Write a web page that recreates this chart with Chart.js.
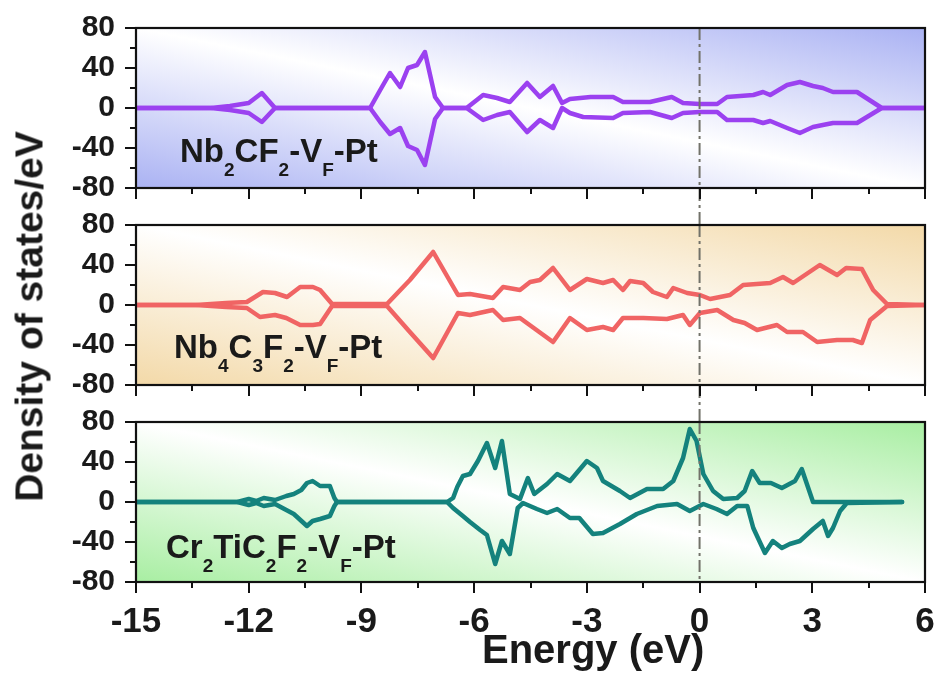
<!DOCTYPE html>
<html><head><meta charset="utf-8">
<script src="https://cdn.jsdelivr.net/npm/chart.js@4.4.1/dist/chart.umd.min.js"></script>
<style>
html,body{margin:0;padding:0;background:#fff;}
#wrap{position:relative;width:941px;height:679px;overflow:hidden;font-family:"Liberation Sans",Arial,sans-serif;}
canvas{position:absolute;left:0;top:0;}
.lbl{position:absolute;font-weight:bold;font-size:33px;line-height:33px;color:#1a1a1a;white-space:nowrap;}
.lbl span{font-size:19px;line-height:19px;position:relative;top:14px;}
.ytitle{position:absolute;left:-221px;top:297px;width:500px;height:39px;line-height:39px;font-size:39px;font-weight:bold;color:#1a1a1a;text-align:center;transform:rotate(-90deg);white-space:nowrap;}
.xtitle{position:absolute;left:482px;top:629px;height:40px;line-height:40px;font-size:40px;font-weight:bold;color:#1a1a1a;white-space:nowrap;}
</style></head>
<body><div id="wrap">
<canvas id="c1" width="941" height="679"></canvas>
<canvas id="c2" width="941" height="679"></canvas>
<canvas id="c3" width="941" height="679"></canvas>
<div class="lbl" style="left:180px;top:134px">Nb<span>2</span>CF<span>2</span>-V<span>F</span>-Pt</div>
<div class="lbl" style="left:174px;top:330px">Nb<span>4</span>C<span>3</span>F<span>2</span>-V<span>F</span>-Pt</div>
<div class="lbl" style="left:166px;top:530px">Cr<span>2</span>TiC<span>2</span>F<span>2</span>-V<span>F</span>-Pt</div>
<div class="ytitle">Density of states/eV</div>
<div class="xtitle">Energy (eV)</div>
</div>
<script>
// ---------- data ----------
const xTicks = [-15, -12, -9, -6, -3, 0, 3, 6];
const yTicks = [-80, -40, 0, 40, 80];

// Panel 1: Nb2CF2-VF-Pt
const p1UpE = [-15, -13.0, -12.5, -12.0, -11.65, -11.3, -8.77, -8.5, -8.24, -7.97, -7.76, -7.52, -7.31, -7.04, -6.83, -6.2, -5.76, -5.39, -5.05, -4.59, -4.25, -3.90, -3.66, -3.45, -2.9, -2.30, -2.04, -1.32, -0.74, -0.44, 0.0, 0.47, 0.73, 1.43, 1.69, 1.88, 2.33, 2.67, 3.02, 3.28, 3.55, 4.19, 4.85, 6];
const p1UpV = [0, 0, 2, 5, 15, 0, 0, 18, 35, 21, 40, 43, 56, 11, 0, 0, 13, 10, 6, 25, 11, 22, 5, 9, 11, 11, 6, 6, 11, 5, 4, 4, 11, 13, 16, 13, 23, 26, 22, 20, 16, 16, 0, 0];
const p1DnE = [-15, -13.0, -12.5, -12.0, -11.65, -11.3, -8.77, -8.5, -8.24, -7.97, -7.76, -7.52, -7.31, -7.04, -6.83, -6.2, -5.76, -5.39, -5.05, -4.59, -4.25, -3.90, -3.66, -3.45, -3.1, -2.30, -2.04, -1.32, -0.74, -0.44, 0.0, 0.47, 0.73, 1.43, 1.69, 1.88, 2.33, 2.67, 3.02, 3.28, 3.55, 4.19, 4.85, 6];
const p1DnV = [0, 0, -2, -5, -14, 0, 0, -14, -26, -20, -38, -42, -57, -11, 0, 0, -12, -7, -4, -24, -12, -20, 0, -5, -9, -10, -5, -4, -10, -5, -4, -4, -12, -12, -15, -13, -20, -25, -19, -17, -15, -15, 0, 0];

// Panel 2: Nb4C3F2-VF-Pt
const p2UpE = [-15, -13.4, -12.6, -12.05, -11.62, -11.3, -10.98, -10.63, -10.29, -10.1, -9.78, -8.32, -7.71, -7.09, -6.43, -6.11, -5.5, -5.23, -4.78, -4.51, -4.25, -3.90, -3.45, -3.0, -2.57, -2.30, -2.04, -1.85, -1.5, -1.24, -0.87, -0.7, -0.33, 0.01, 0.28, 0.81, 1.16, 1.88, 2.22, 2.49, 3.2, 3.66, 3.9, 4.32, 4.62, 4.99, 6];
const p2UpV = [0, 0, 2, 3, 13, 12, 8, 18, 18, 15, 1, 1, 25, 53, 10, 11, 7, 18, 15, 23, 25, 37, 15, 26, 22, 25, 15, 24, 22, 13, 8, 17, 12, 10, 6, 10, 20, 22, 28, 22, 40, 30, 37, 36, 15, 1, 0];
const p2DnE = [-15, -13.4, -12.6, -12.05, -11.7, -11.3, -11.0, -10.63, -10.29, -10.1, -9.78, -8.32, -7.71, -7.09, -6.43, -6.11, -5.5, -5.23, -4.78, -3.90, -3.45, -3.0, -2.57, -2.30, -2.04, -1.5, -0.87, -0.44, -0.26, 0.01, 0.47, 0.9, 1.2, 1.53, 2.06, 2.33, 2.75, 3.13, 3.66, 4.08, 4.32, 4.54, 4.99, 6];
const p2DnV = [0, 0, -2, -3, -12, -10, -13, -20, -20, -19, -1, -1, -27, -53, -8, -10, -5, -15, -13, -37, -13, -25, -22, -25, -13, -13, -14, -10, -20, -8, -5, -15, -18, -25, -20, -27, -27, -37, -35, -35, -38, -15, -1, 0];

// Panel 3: Cr2TiC2F2-VF-Pt
const p3UpE = [-15, -12.3, -12.0, -11.8, -11.6, -11.3, -11.0, -10.8, -10.6, -10.45, -10.3, -10.1, -9.84, -9.72, -9.65, -6.72, -6.56, -6.45, -6.3, -6.11, -5.9, -5.66, -5.44, -5.26, -5.05, -4.78, -4.57, -4.4, -4.06, -3.79, -3.45, -3.0, -2.73, -2.57, -2.12, -1.85, -1.40, -0.97, -0.7, -0.44, -0.26, -0.08, 0.1, 0.36, 0.63, 1.0, 1.2, 1.4, 1.6, 1.9, 2.19, 2.54, 2.72, 3.02, 5.39];
const p3UpV = [0, 0, 3, 1, 4, 2, 6, 8, 12, 19, 21, 16, 16, 4, 0, 0, 4, 15, 26, 28, 41, 59, 34, 61, 8, 3, 24, 8, 18, 28, 21, 41, 34, 21, 11, 4, 13, 13, 21, 44, 73, 61, 28, 11, 3, 4, 11, 31, 19, 19, 14, 21, 33, 0, 0];
const p3DnE = [-15, -12.3, -12.0, -11.8, -11.6, -11.3, -11.0, -10.8, -10.45, -10.3, -10.1, -9.84, -9.72, -9.65, -6.72, -6.56, -6.3, -6.11, -5.84, -5.66, -5.44, -5.26, -5.05, -4.84, -4.7, -4.33, -4.06, -3.79, -3.45, -3.2, -2.84, -2.57, -2.12, -1.67, -1.13, -0.6, -0.26, 0.1, 0.45, 0.73, 1.0, 1.27, 1.43, 1.74, 1.95, 2.19, 2.4, 2.67, 3.02, 3.28, 3.42, 3.55, 3.74, 3.92, 5.39];
const p3DnV = [0, 0, -3, -1, -4, -2, -8, -12, -24, -19, -17, -14, -4, 0, 0, -6, -14, -20, -28, -33, -62, -39, -52, -6, -1, -7, -11, -7, -16, -16, -32, -31, -22, -12, -4, -2, -9, -2, -7, -12, -4, -4, -26, -51, -39, -46, -42, -39, -27, -19, -34, -26, -9, -1, 0];

// ---------- helpers ----------
function pts(E, V) { return E.map((e, i) => ({x: e, y: V[i]})); }
const FONT = '"Liberation Sans", Arial, sans-serif';

function zeroPad(s) { s.paddingLeft = 0; s.paddingRight = 0; s.paddingTop = 0; s.paddingBottom = 0; }

function panelPlugin(bg, ext) {
  return {
    id: 'panelDeco',
    beforeDatasetsDraw(chart) {
      const {ctx, chartArea: a} = chart;
      ctx.save();
      ctx.translate(a.left, a.top);
      ctx.scale(a.right - a.left, a.bottom - a.top);
      const g = ctx.createLinearGradient(0, 1, 1, 0);
      g.addColorStop(0, bg);
      g.addColorStop(0.5, '#ffffff');
      g.addColorStop(1, bg);
      ctx.fillStyle = g;
      ctx.fillRect(0, 0, 1, 1);
      ctx.restore();
    },
    afterDatasetsDraw(chart) {
      const {ctx, chartArea: a, scales} = chart;
      const x0 = scales.x.getPixelForValue(0);
      ctx.save();
      ctx.strokeStyle = '#72726a';
      ctx.lineWidth = 2;
      ctx.setLineDash([12, 4, 3, 4]);
      ctx.beginPath();
      ctx.moveTo(x0, a.top);
      ctx.lineTo(x0, a.bottom + ext);
      ctx.stroke();
      ctx.restore();
    },
    afterDraw(chart) {
      const {ctx, chartArea: a, scales} = chart;
      ctx.save();
      ctx.strokeStyle = '#111';
      ctx.lineWidth = 2;
      ctx.beginPath();
      for (let v = -80; v <= 80; v += 20) {
        const y = Math.round(scales.y.getPixelForValue(v));
        const len = (v % 40 === 0) ? 11 : 6;
        ctx.moveTo(a.left - len, y); ctx.lineTo(a.left, y);
      }
      for (let e = -15; e <= 6.001; e += 1.5) {
        const x = Math.round(scales.x.getPixelForValue(e));
        const len = (Math.abs((e + 15) % 3) < 0.01) ? 11 : 6;
        ctx.moveTo(x, a.bottom); ctx.lineTo(x, a.bottom + len);
      }
      ctx.stroke();
      ctx.lineWidth = 2.2;
      ctx.strokeRect(a.left, a.top, a.right - a.left, a.bottom - a.top);
      ctx.restore();
    }
  };
}

function makePanel(id, top, color, bg, up, dn, showX, ext) {
  const axisH = showX ? 60 : 14;
  const bottomPad = 679 - (top + 160) - axisH;
  const ds = d => ({data: d, borderColor: color, borderWidth: 4.5, pointRadius: 0, tension: 0, fill: false,
                    borderJoinStyle: 'round', borderCapStyle: 'round'});
  new Chart(document.getElementById(id), {
    type: 'line',
    data: {datasets: [ds(up), ds(dn)]},
    options: {
      responsive: false,
      animation: false,
      devicePixelRatio: 1,
      events: [],
      layout: {padding: {left: 0, right: 16, top: top, bottom: bottomPad}},
      plugins: {legend: {display: false}, tooltip: {enabled: false}},
      scales: {
        x: {
          type: 'linear', min: -15, max: 6,
          afterBuildTicks: s => { s.ticks = xTicks.map(v => ({value: v})); },
          afterFit: s => { s.height = axisH; zeroPad(s); },
          grid: {display: false, drawTicks: false},
          border: {display: false},
          ticks: {display: showX, padding: 19, maxRotation: 0, autoSkip: false, color: '#1a1a1a',
                  font: {family: FONT, size: 35, weight: 'bold'}}
        },
        y: {
          type: 'linear', min: -80, max: 80,
          afterBuildTicks: s => { s.ticks = yTicks.map(v => ({value: v})); },
          afterFit: s => { s.width = 136; zeroPad(s); },
          grid: {display: false, drawTicks: false},
          border: {display: false},
          ticks: {padding: 21, autoSkip: false, color: '#1a1a1a', font: {family: FONT, size: 30, weight: 'bold'}}
        }
      }
    },
    plugins: [panelPlugin(bg, ext)]
  });
}

makePanel('c1', 28, '#9b41f0', '#aab2f3', pts(p1UpE, p1UpV), pts(p1DnE, p1DnV), false, 37);
makePanel('c2', 225, '#f06464', '#f3d9a8', pts(p2UpE, p2UpV), pts(p2DnE, p2DnV), false, 37);
makePanel('c3', 422, '#14827d', '#a8eea2', pts(p3UpE, p3UpV), pts(p3DnE, p3DnV), true, 0);
</script>
</body></html>
